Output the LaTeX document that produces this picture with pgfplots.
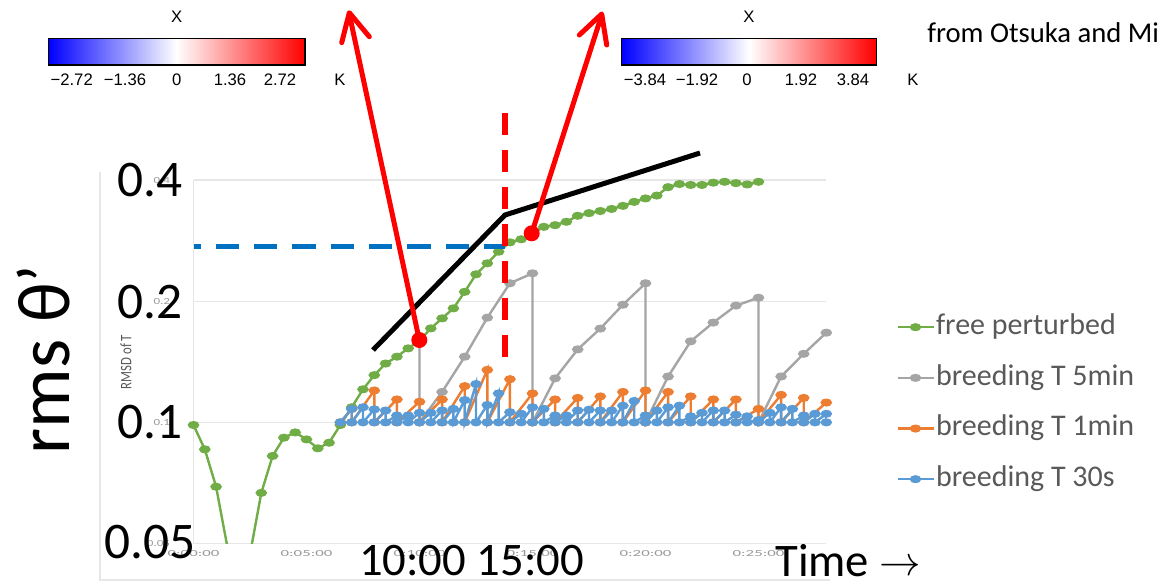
\documentclass[border=0pt]{standalone}
\usepackage{pgfplots}
\pgfplotsset{compat=1.18}
\usepackage{fontspec}
\setmainfont{Carlito}
\newfontfamily\helv{Liberation Sans}
\definecolor{cgreen}{HTML}{70AD47}
\definecolor{cgrey}{HTML}{A5A5A5}
\definecolor{corange}{HTML}{ED7D31}
\definecolor{cblue}{HTML}{5B9BD5}
\definecolor{dblue}{HTML}{0070C0}
\definecolor{ltext}{HTML}{595959}
\definecolor{gridc}{HTML}{E6E6E6}
\begin{document}
\begin{tikzpicture}
\begin{scope}[x=0.75pt,y=-0.75pt]
\useasboundingbox (0,0) rectangle (1163,586);
\draw[color=gridc, line width=0.8pt] (100,172) -- (100,580) -- (830,580);
\end{scope}
\begin{axis}[
  at={(145.125pt,-407.625pt)}, anchor=south west,
  scale only axis, width=474.6pt, height=272.625pt,
  xmin=0, xmax=28, ymin=0.05, ymax=0.4, ymode=log,
  ytick={0.05,0.1,0.2,0.4}, yticklabels={0.05,0.1,0.2,0.4},
  xtick={0,5,10,15,20,25},
  xticklabels={0:00:00,0:05:00,0:10:00,0:15:00,0:20:00,0:25:00},
  major tick length=0pt, minor tick num=0,
  ymajorgrids, grid style={gridc, line width=0.8pt},
  axis x line*=bottom, axis y line*=left,
  axis line style={gridc, line width=0.8pt, -},
  xticklabel style={font=\fontsize{7}{8}\selectfont, text=gray!80, xscale=1.8, yshift=-2pt},
  yticklabel style={font=\fontsize{7}{8}\selectfont, text=gray!80, xscale=1.4, xshift=-9pt},
  every axis plot/.append style={line width=1.8pt, mark=*, mark size=2.1pt, mark options={solid, xscale=1.6}},
  legend style={at={(1.1102,0.386)}, anchor=west, draw=none, fill=none,
     inner sep=0pt, row sep=15pt, font=\fontsize{22.5}{27}\selectfont, text=ltext,
     nodes={inner sep=1pt, text height=16pt, text depth=5pt}},
  legend cell align=left,
  legend image code/.code={\draw[mark repeat=2,mark phase=2,#1] plot coordinates {(0pt,0pt) (13.5pt,0pt) (27pt,0pt)};},
]
\addplot[cgreen] coordinates {
(0,0.0985)(0.5,0.0857)(1,0.0692)(1.5,0.049)(2,0.035)(2.5,0.047)(3,0.0668)(3.5,0.0825)
(4,0.0916)(4.5,0.0944)(5,0.0907)(5.5,0.0862)(6,0.089)(6.5,0.0985)(7,0.109)(7.5,0.1208)
(8,0.131)(8.5,0.140)(9,0.1456)(9.5,0.1527)(10,0.1595)(10.5,0.1712)(11,0.1813)(11.5,0.192)
(12,0.211)(12.5,0.2332)(13,0.2484)(13.5,0.2654)(14,0.28)(14.5,0.285)(15,0.295)(15.5,0.306)
(16,0.309)(16.5,0.315)(17,0.326)(17.5,0.331)(18,0.335)(18.5,0.339)(19,0.345)(19.5,0.353)
(20,0.360)(20.5,0.366)(21,0.384)(21.5,0.391)(22,0.389)(22.5,0.389)(23,0.394)(23.5,0.396)
(24,0.393)(24.5,0.390)(25,0.396)};
\addlegendentry{free perturbed}
\addplot[cgrey] coordinates {
(10,0.1595)(10,0.1)(11,0.119)(12,0.1456)(13,0.182)(14,0.2216)(15,0.2346)
(15,0.1)(16,0.1286)(17,0.1518)(18,0.171)(19,0.196)(20,0.2216)
(20,0.1)(21,0.130)(22,0.159)(23,0.177)(24,0.195)(25,0.204)
(25,0.1)(26,0.130)(27,0.148)(28,0.167)};
\addlegendentry{breeding T 5min}
\addplot[corange] coordinates {
(6.5,0.1)(7,0.108)(7,0.1)(8,0.120)(8,0.1)(9,0.114)(9,0.1)(10,0.1125)(10,0.1)
(11,0.114)(11,0.1)(12,0.123)(12,0.1)(13,0.135)(13,0.1)(14,0.128)(14,0.1)
(15,0.118)(15,0.1)(16,0.114)(16,0.1)(17,0.115)(17,0.1)(18,0.116)(18,0.1)
(19,0.119)(19,0.1)(20,0.120)(20,0.1)(21,0.119)(21,0.1)(22,0.116)(22,0.1)
(23,0.114)(23,0.1)(24,0.114)(24,0.1)(25,0.108)(25,0.1)(26,0.117)(26,0.1)
(27,0.115)(27,0.1)(28,0.112)};
\addlegendentry{breeding T 1min}
\addplot[cblue] coordinates {
(6.5,0.1)(7,0.108)(7,0.1)(7.5,0.109)(7.5,0.1)(8,0.1077)(8,0.1)(8.5,0.107)(8.5,0.1)
(9,0.104)(9,0.1)(9.5,0.104)(9.5,0.1)(10,0.1056)(10,0.1)(10.5,0.1056)(10.5,0.1)
(11,0.107)(11,0.1)(11.5,0.108)(11.5,0.1)(12,0.1136)(12,0.1)(12.5,0.1245)(12.5,0.1)
(13,0.1104)(13,0.1)(13.5,0.118)(13.5,0.1)(14,0.106)(14,0.1)(14.5,0.105)(14.5,0.1)
(15,0.109)(15,0.1)(15.5,0.108)(15.5,0.1)(16,0.104)(16,0.1)(16.5,0.104)(16.5,0.1)
(17,0.107)(17,0.1)(17.5,0.1075)(17.5,0.1)(18,0.107)(18,0.1)(18.5,0.107)(18.5,0.1)
(19,0.110)(19,0.1)(19.5,0.113)(19.5,0.1)(20,0.104)(20,0.1)(20.5,0.107)(20.5,0.1)
(21,0.109)(21,0.1)(21.5,0.110)(21.5,0.1)(22,0.1035)(22,0.1)(22.5,0.1056)(22.5,0.1)
(23,0.107)(23,0.1)(23.5,0.107)(23.5,0.1)(24,0.1045)(24,0.1)(24.5,0.1035)(24.5,0.1)
(25,0.1013)(25,0.1)(25.5,0.1056)(25.5,0.1)(26,0.109)(26,0.1)(26.5,0.108)(26.5,0.1)
(27,0.104)(27,0.1)(27.5,0.105)(27.5,0.1)(28,0.105)(28,0.1)};
\addlegendentry{breeding T 30s}
\end{axis}
\begin{scope}[x=0.75pt,y=-0.75pt]
% annotations
\draw[dblue, line width=3.75pt, dash pattern=on 17.5pt off 11.25pt, dash phase=12.2pt] (193.5,246.5) -- (505,246.5);
\draw[red, line width=4pt, dash pattern=on 16.5pt off 11.25pt] (505,113) -- (505,357);
\draw[black, line width=3.75pt, line join=miter] (373,350) -- (505,215) -- (700,153);
\draw[red, line width=3.75pt] (419.3,340) -- (349.3,14);
\draw[red, line width=3.75pt, line cap=round, line join=round] (341.7,42.7) -- (349.3,12.7) -- (369.3,36.7);
\draw[red, line width=3.75pt] (531.7,233.3) -- (601.7,15);
\draw[red, line width=3.75pt, line cap=round, line join=round] (579.3,35) -- (601.7,14) -- (606.7,45);
\fill[red] (419.3,340) circle (8);
\fill[red] (531.7,233.3) circle (8);
% big labels
\node[font=\fontsize{38.5}{44}\selectfont] at (150,180) {0.4};
\node[font=\fontsize{38.5}{44}\selectfont] at (150,302) {0.2};
\node[font=\fontsize{38.5}{44}\selectfont] at (150,422) {0.1};
\node[font=\fontsize{38.5}{44}\selectfont] at (150,542) {0.05};
\node[rotate=90, anchor=base, font=\fontsize{56}{64}\selectfont] at (69,359.5) {rms θ’};
\node[rotate=90, text=ltext, font=\fontsize{12}{14}\selectfont] at (126,362) {\scalebox{0.8}[1]{RMSD of T}};
\node[inner sep=0pt, font=\fontsize{35}{40}\selectfont] at (471.5,561) {10:00 15:00};
\node[anchor=west, inner sep=0pt, font=\fontsize{35}{40}\selectfont] at (775,561) {Time \raisebox{1pt}{\scalebox{1.25}{$\rightarrow$}}};
% colorbars
\shade[left color=blue, right color=red, middle color=white] (48.3,38.3) rectangle (305,65);
\draw[black, line width=1pt] (48.3,38.3) rectangle (305,65);
\shade[left color=blue, right color=red, middle color=white] (621.5,38.3) rectangle (876.5,65);
\draw[black, line width=1pt] (621.5,38.3) rectangle (876.5,65);
\begin{scope}[font=\helv\fontsize{12.5}{14}\selectfont]
\node at (176.7,16.7) {X};
\node at (71.7,80) {−2.72};
\node at (125,80) {−1.36};
\node at (176.7,80) {0};
\node at (230,80) {1.36};
\node at (280,80) {2.72};
\node at (340,80) {K};
\node at (749,16.7) {X};
\node at (645,80) {−3.84};
\node at (697,80) {−1.92};
\node at (747,80) {0};
\node at (801,80) {1.92};
\node at (853,80) {3.84};
\node at (913,80) {K};
\end{scope}
\node[anchor=west, inner sep=0pt, font=\fontsize{21.5}{24}\selectfont] at (927,33) {from Otsuka and Mi};
\end{scope}
\end{tikzpicture}
\end{document}
